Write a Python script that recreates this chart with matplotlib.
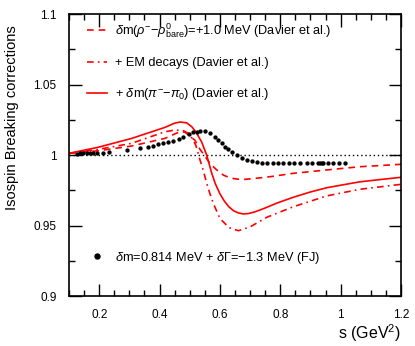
import matplotlib
matplotlib.use("Agg")
import matplotlib.pyplot as plt
from matplotlib.ticker import MultipleLocator, FormatStrFormatter

plt.rcParams['font.family'] = ['Liberation Sans', 'DejaVu Sans']
plt.rcParams['mathtext.fontset'] = 'custom'
plt.rcParams['mathtext.rm'] = 'Liberation Sans'
plt.rcParams['mathtext.it'] = 'Liberation Sans:italic'
plt.rcParams['mathtext.bf'] = 'Liberation Sans:bold'

# courbe "delta m(rho- - rho0 bare)"
s_dm = [0.10, 0.197, 0.308, 0.418, 0.451, 0.468, 0.484, 0.50, 0.517, 0.534,
        0.551, 0.567, 0.589, 0.611, 0.633, 0.656, 0.683, 0.733, 0.766, 0.843,
        0.954, 1.064, 1.20]
v_dm = [1.0012, 1.0030, 1.0064, 1.0118, 1.0150, 1.0165, 1.0162, 1.0135, 1.0105, 1.0040,
        0.9990, 0.9940, 0.9895, 0.9858, 0.9838, 0.9829, 0.9827, 0.9838, 0.9846, 0.9870,
        0.9894, 0.9917, 0.9934]

# courbe "+ EM decays"
s_em = [0.10, 0.197, 0.308, 0.418, 0.451, 0.479, 0.495, 0.507, 0.520, 0.534,
        0.545, 0.556, 0.567, 0.578, 0.600, 0.630, 0.661, 0.700, 0.755, 0.843,
        0.954, 1.064, 1.20]
v_em = [1.0012, 1.0040, 1.0083, 1.0165, 1.0177, 1.0172, 1.0155, 1.0120, 1.0070, 0.9965,
        0.9890, 0.9800, 0.9725, 0.9657, 0.9550, 0.9485, 0.9463, 0.9490, 0.9558, 0.9633,
        0.9710, 0.9757, 0.9792]

# courbe "+ delta m(pi- - pi0)"
s_pi = [0.10, 0.197, 0.308, 0.418, 0.450, 0.468, 0.490, 0.507, 0.520, 0.540,
        0.556, 0.573, 0.585, 0.600, 0.615, 0.630, 0.645, 0.660, 0.677, 0.695,
        0.715, 0.745, 0.790, 0.843, 0.900, 0.954, 1.064, 1.20]
v_pi = [1.0012, 1.0055, 1.0118, 1.0196, 1.0226, 1.0234, 1.0228, 1.0200, 1.0165, 1.0090,
        1.0000, 0.9870, 0.9795, 0.9725, 0.9672, 0.9632, 0.9605, 0.9590, 0.9582, 0.9585,
        0.9596, 0.9620, 0.9660, 0.9700, 0.9738, 0.9768, 0.9810, 0.9842]

# points FJ
s_fj = [0.125, 0.136, 0.147, 0.158, 0.169, 0.181, 0.192, 0.214, 0.231, 0.291,
        0.335, 0.363, 0.379, 0.396, 0.413, 0.429, 0.446, 0.463, 0.479, 0.496,
        0.512, 0.523, 0.534, 0.551, 0.567, 0.584, 0.595, 0.606, 0.617, 0.628,
        0.639, 0.656, 0.672, 0.689, 0.705, 0.722, 0.739, 0.755, 0.775, 0.794,
        0.810, 0.829, 0.847, 0.866, 0.888, 0.904, 0.926, 0.932, 0.937, 0.943,
        0.959, 0.976, 0.995, 1.015]
v_fj = [1.0007, 1.0012, 1.0012, 1.0012, 1.0012, 1.0016, 1.0016, 1.0016, 1.0021, 1.0035,
        1.0052, 1.0059, 1.0066, 1.0076, 1.0083, 1.0092, 1.0101, 1.0111, 1.0127, 1.0148,
        1.0160, 1.0165, 1.0172, 1.0168, 1.0156, 1.0130, 1.0106, 1.0083, 1.0059, 1.0040,
        1.0023, 1.0000, 0.9980, 0.9965, 0.9957, 0.9953, 0.9945, 0.9940, 0.9940, 0.9940,
        0.9940, 0.9940, 0.9940, 0.9940, 0.9940, 0.9940, 0.9940, 0.9940, 0.9940, 0.9940,
        0.9940, 0.9940, 0.9940, 0.9940]

labels = [r'$\delta$m($\rho^{-}$$-$$\rho^{0}_{\rm bare}$)=+1.0 MeV (Davier et al.)',
          '+ EM decays (Davier et al.)',
          r'+ $\delta$m($\pi^{-}$$-$$\pi_{0}$) (Davier et al.)']
label_fj = r'$\delta$m=0.814 MeV + $\delta\Gamma$=$-$1.3 MeV (FJ)'

fig = plt.figure(figsize=(4.15, 3.46), dpi=100)
ax = fig.add_axes([0.1663, 0.1445, 0.80, 0.8150])

ax.plot([0.1, 1.2], [1.0, 1.0], color='black', linestyle=(0, (1, 2)), linewidth=1.0)
l1, = ax.plot(s_dm, v_dm, color='red', linestyle=(0, (4, 3)), linewidth=1.2)
l2, = ax.plot(s_em, v_em, color='red', linestyle=(0, (4, 2.5, 1, 2.5)), linewidth=1.2)
l3, = ax.plot(s_pi, v_pi, color='red', linestyle='-', linewidth=1.2)
pts, = ax.plot(s_fj, v_fj, linestyle='none', marker='o', markersize=2.1, color='black')

ax.set_xlim(0.1, 1.2)
ax.set_ylim(0.9, 1.1)
ax.xaxis.set_major_locator(MultipleLocator(0.2))
ax.xaxis.set_minor_locator(MultipleLocator(0.05))
ax.yaxis.set_major_locator(MultipleLocator(0.05))
ax.yaxis.set_minor_locator(MultipleLocator(0.025))
ax.xaxis.set_major_formatter(FormatStrFormatter('%g'))
ax.yaxis.set_major_formatter(FormatStrFormatter('%g'))
ax.tick_params(which='both', direction='in', top=True, right=True, width=1.0,
               labelsize=8.5)
ax.tick_params(which='major', length=9, pad=9)
ax.tick_params(which='minor', length=4.5)
for sp in ax.spines.values():
    sp.set_linewidth(1.2)

ax.set_ylabel('Isospin Breaking corrections', fontsize=10.5, loc='top')
ax.yaxis.set_label_coords(-0.15, 0.96)
ax.set_xlabel(r's (GeV$^{2}$)', fontsize=11.5, loc='right')
ax.xaxis.set_label_coords(1.0, -0.092)

leg = ax.legend([l1, l2, l3], labels, loc='upper left', bbox_to_anchor=(0.054, 0.975),
                frameon=False, fontsize=9.2, handlelength=1.55, handletextpad=0.62,
                labelspacing=1.35, borderpad=0, borderaxespad=0)
ax.add_artist(leg)
ax.legend([pts], [label_fj], loc='center left', bbox_to_anchor=(0.054, 0.135),
          frameon=False, fontsize=9.2, handlelength=1.55, handletextpad=0.62,
          borderpad=0, borderaxespad=0, markerscale=1.7)

fig.savefig('out.png', dpi=100)
